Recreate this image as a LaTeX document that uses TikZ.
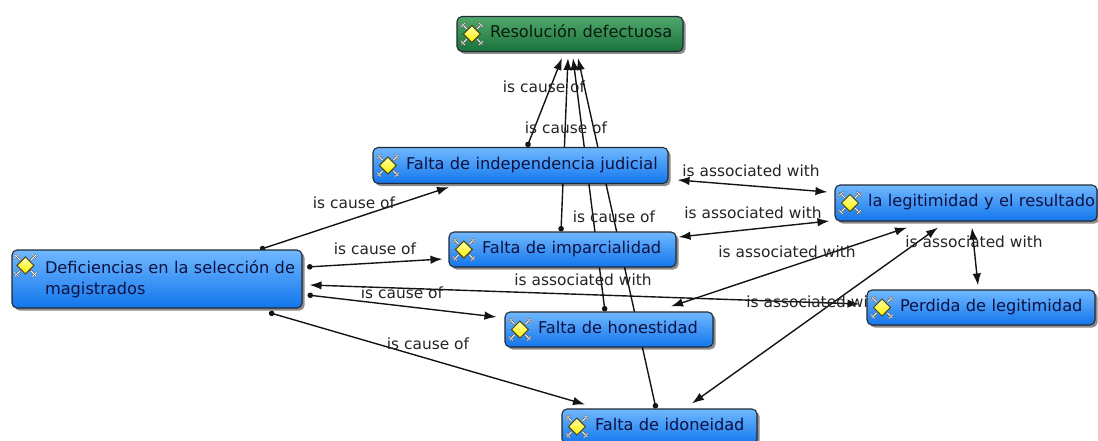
\documentclass[tikz,border=0pt]{standalone}
\usepackage{fontspec}
\setmainfont{DejaVu Sans}
\usetikzlibrary{arrows.meta,shadows,calc}
\pgfdeclarelayer{edges}
\pgfsetlayers{edges,main}
\definecolor{bTop}{RGB}{112,184,255}
\definecolor{bBot}{RGB}{18,118,236}
\definecolor{gTop}{RGB}{80,168,108}
\definecolor{gBot}{RGB}{26,114,60}
\definecolor{edgeC}{RGB}{34,42,52}
\definecolor{txtC}{RGB}{14,18,66}
\definecolor{gtxtC}{RGB}{10,28,12}
\definecolor{lineC}{RGB}{20,20,20}
\definecolor{lblC}{RGB}{36,36,36}
\definecolor{icY}{RGB}{255,240,0}
\definecolor{icYl}{RGB}{255,255,170}
\definecolor{icO}{RGB}{70,70,20}
\begin{document}
\begin{tikzpicture}[x=1pt,y=-1pt,
  concept/.style={rectangle, rounded corners=5pt, draw=edgeC, line width=1.1pt,
    top color=bTop, bottom color=bBot, inner xsep=0pt, inner ysep=0pt,
    align=left, text=txtC, font=\fontsize{16.2}{21.5}\selectfont,
    drop shadow={shadow xshift=2.5pt, shadow yshift=-2.5pt, fill=black, opacity=0.45}},
  oneline/.style={text height=12pt, text depth=4pt},
  greenbox/.style={top color=gTop, bottom color=gBot, text=gtxtC},
  cause/.style={draw=lineC, line width=1.4pt, {Circle[length=5.5pt]}-{Latex[length=12pt,width=8.5pt]}},
  assoc/.style={draw=lineC, line width=1.4pt, {Latex[length=12pt,width=8.5pt]}-{Latex[length=12pt,width=8.5pt]}},
  lbl/.style={font=\fontsize{15.4}{18}\selectfont, text=lblC, inner sep=0pt, anchor=base},
  cmicon/.pic={
    \foreach \sx in {-1,1} \foreach \sy in {-1,1} {
      \draw[black!60, line width=2.2pt, line cap=round] (\sx*5.5,\sy*5.5) -- (\sx*10,\sy*10);
      \draw[white, line width=0.9pt, line cap=round] (\sx*5.5,\sy*5.5) -- (\sx*10,\sy*10);
      \draw[black!60, line width=1.6pt, line cap=round] (\sx*7,\sy*11) -- (\sx*11,\sy*7);
      \draw[white, line width=0.6pt, line cap=round] (\sx*7,\sy*11) -- (\sx*11,\sy*7);
    }
    \shade[top color=icYl, bottom color=icY, draw=icO, line width=1pt]
      (0,-8.5) -- (8.5,0) -- (0,8.5) -- (-8.5,0) -- cycle;
  }
]
\useasboundingbox (0,0) rectangle (1098,441);

% concepts
\node[concept, greenbox, oneline, text width=226pt, minimum height=35pt] (res) at (570,34) {\hspace*{33pt}Resolución defectuosa};
\node[concept, oneline, text width=295pt, minimum height=36pt] (ind) at (520.5,165.5) {\hspace*{33pt}Falta de independencia judicial};
\node[concept, oneline, text width=262pt, minimum height=36pt] (leg) at (966,203) {\hspace*{33pt}la legitimidad y el resultado};
\node[concept, oneline, text width=227pt, minimum height=35pt] (imp) at (562.5,249.5) {\hspace*{33pt}Falta de imparcialidad};
\node[concept, text width=290pt, minimum height=58pt] (def) at (157,279) {\hspace*{33pt}Deficiencias en la selección de\\\hspace*{33pt}magistrados};
\node[concept, oneline, text width=228pt, minimum height=35pt] (per) at (981,307.5) {\hspace*{33pt}Perdida de legitimidad};
\node[concept, oneline, text width=208pt, minimum height=35pt] (hon) at (609,329.5) {\hspace*{33pt}Falta de honestidad};
\node[concept, oneline, text width=195pt, minimum height=35pt] (ido) at (659.5,426.5) {\hspace*{33pt}Falta de idoneidad};

% icons
\pic at ($(res.west)+(15.5,0)$) {cmicon};
\pic at ($(ind.west)+(15.5,0)$) {cmicon};
\pic at ($(leg.west)+(15.5,0)$) {cmicon};
\pic at ($(imp.west)+(15.5,0)$) {cmicon};
\pic at ($(def.north west)+(14,16)$) {cmicon};
\pic at ($(per.west)+(15.5,0)$) {cmicon};
\pic at ($(hon.west)+(15.5,0)$) {cmicon};
\pic at ($(ido.west)+(15.5,0)$) {cmicon};

\begin{pgfonlayer}{edges}
% is cause of
\draw[cause] ($(ind.north)+(6.5,0)$) -- ($(res.south)+(-8,6)$);
\draw[cause] ($(imp.north)+(-1.5,0)$) -- ($(res.south)+(-2,6)$);
\draw[cause] ($(hon.north)+(-4,0)$) -- ($(res.south)+(3,6)$);
\draw[cause] ($(ido.north)+(-3.5,0)$) -- ($(res.south)+(8,6)$);
\draw[cause] ($(def.north)+(103,0)$) -- ($(ind.south)+(-71.5,3)$);
\draw[cause] ($(def.east)+(4.5,-12)$) -- ($(imp.west)+(-6,9.5)$);
\draw[cause] ($(def.east)+(5,16)$) -- ($(hon.west)+(-8,-12.5)$);
\draw[cause] ($(def.south)+(112,4)$) -- ($(ido.north)+(-74.5,-4)$);
% is associated with
\draw[assoc] ($(def.east)+(7,6)$) -- ($(per.west)+(-7,-3.5)$);
\draw[assoc] ($(ind.east)+(9,14.5)$) -- ($(leg.west)+(-7,-11)$);
\draw[assoc] ($(imp.east)+(2,-12.5)$) -- ($(leg.west)+(-5,18)$);
\draw[assoc] ($(hon.north)+(62,-5)$) -- ($(leg.south)+(-59,6)$);
\draw[assoc] ($(ido.north)+(32.5,-5)$) -- ($(leg.south)+(-28,6)$);
\draw[assoc] ($(leg.south)+(6,6)$) -- ($(per.north)+(-3,-4)$);

% labels
\node[lbl] (c1) at (544,92.5) {is cause of};
\node[lbl] (c2) at (566,133.5) {is cause of};
\node[lbl] (c3) at (614,222.5) {is cause of};
\node[lbl] (c4) at (354,208.5) {is cause of};
\node[lbl] (c5) at (375,254.5) {is cause of};
\node[lbl] (c6) at (402,298.5) {is cause of};
\node[lbl] (c7) at (428,349.5) {is cause of};
\node[lbl] (a1) at (751,176.5) {is associated with};
\node[lbl] (a2) at (753,218.5) {is associated with};
\node[lbl] (a3) at (787,257.5) {is associated with};
\node[lbl] (a4) at (974,247.5) {is associated with};
\node[lbl] (a5) at (815,307.5) {is associated with};
\node[lbl] (a6) at (583,285.5) {is associated with};
\end{pgfonlayer}
\end{tikzpicture}
\end{document}
